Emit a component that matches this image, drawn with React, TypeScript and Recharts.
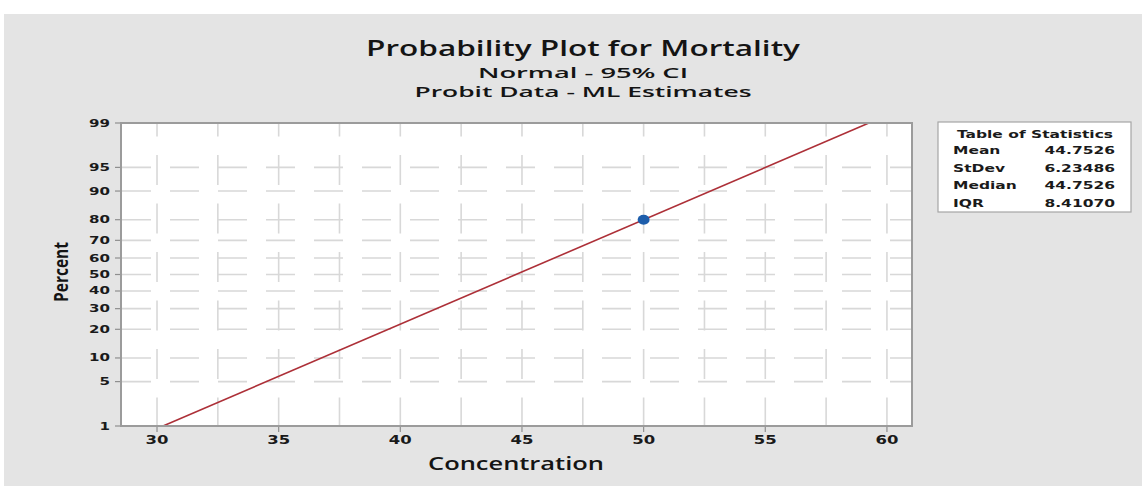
import React from 'react';
import { ComposedChart, Line, Scatter, XAxis, YAxis, CartesianGrid } from 'recharts';

// chart values
const percentTicks = [1, 5, 10, 20, 30, 40, 50, 60, 70, 80, 90, 95, 99];
const concentrationTicks = [30, 32.5, 35, 37.5, 40, 42.5, 45, 47.5, 50, 52.5, 55, 57.5, 60];
const observedConcentration = [50];
const observedPercent = [80];
const fitMean = 44.7526;
const fitStDev = 6.23486;
const fitPercents = [1, 99];
const statLabels = ['Mean', 'StDev', 'Median', 'IQR'];
const statValues = ['44.7526', '6.23486', '44.7526', '8.41070'];

// inverse normal cdf (Acklam)
const probit = (p: number): number => {
  const a = [-39.69683028665376, 220.9460984245205, -275.9285104469687, 138.357751867269, -30.66479806614716, 2.506628277459239];
  const b = [-54.47609879822406, 161.5858368580409, -155.6989798598866, 66.80131188771972, -13.28068155922803];
  const c = [-0.007784894002430293, -0.3223964580411365, -2.400758277161838, -2.549732539343734, 4.374664141464968, 2.938163982698783];
  const d = [0.007784695709041462, 0.3224671290700398, 2.445134137142996, 3.754408661907416];
  const lo = 0.02425;
  if (p < lo) {
    const q = Math.sqrt(-2 * Math.log(p));
    return (((((c[0] * q + c[1]) * q + c[2]) * q + c[3]) * q + c[4]) * q + c[5]) / ((((d[0] * q + d[1]) * q + d[2]) * q + d[3]) * q + 1);
  }
  if (p <= 1 - lo) {
    const q = p - 0.5;
    const r = q * q;
    return ((((((a[0] * r + a[1]) * r + a[2]) * r + a[3]) * r + a[4]) * r + a[5]) * q) / (((((b[0] * r + b[1]) * r + b[2]) * r + b[3]) * r + b[4]) * r + 1);
  }
  return -probit(1 - p);
};

const fitLine = fitPercents.map(p => ({ x: fitMean + probit(p / 100) * fitStDev, z: probit(p / 100) }));
const points = observedConcentration.map((x, i) => ({ x, z: probit(observedPercent[i] / 100) }));
const yTicks = percentTicks.map(p => probit(p / 100));

const tickFont = '"DejaVu Sans", Verdana, sans-serif';
const titleFont = '"Open Sans", "Noto Sans", sans-serif';

// y tick: props x is the axis line position (tickSize/tickMargin = 0)
const YTick = (props: any) => {
  const { x, y, payload } = props;
  const idx = yTicks.findIndex(t => Math.abs(t - payload.value) < 1e-6);
  return (
    <g>
      <line x1={x - 6} x2={x} y1={y} y2={y} stroke="#8f8f8f" strokeWidth={1.2} />
      <text transform={`translate(${x - 11},${y + 3.5}) scale(1.57,1)`} textAnchor="end"
        fontFamily={tickFont} fontWeight="bold" fontSize={9.6} fill="#1a1a1a">
        {percentTicks[idx]}
      </text>
    </g>
  );
};

const XTick = (props: any) => {
  const { x, y, payload } = props;
  if (payload.value % 5 !== 0) return <g />;
  return (
    <g>
      <line x1={x} x2={x} y1={y} y2={y + 6} stroke="#8f8f8f" strokeWidth={1.2} />
      <text transform={`translate(${x},${y + 18}) scale(1.34,1)`} textAnchor="middle"
        fontFamily={tickFont} fontWeight="bold" fontSize={12.3} fill="#1a1a1a">
        {payload.value}
      </text>
    </g>
  );
};

const Dot = (props: any) => <ellipse cx={props.cx} cy={props.cy} rx={6} ry={5} fill="#1d5dab" />;

export default function App() {
  return (
    <div style={{ position: 'absolute', left: 0, top: 0, width: 1142, height: 486, background: '#fff' }}>
      <div style={{ position: 'absolute', left: 4, top: 14, width: 1138, height: 472, background: '#e4e4e4' }} />
      <div style={{ position: 'absolute', left: 0, top: 0 }}>
        <ComposedChart width={1142} height={486} margin={{ top: 123, right: 230, bottom: 20, left: 81 }}>
          <CartesianGrid horizontal={false} fill="#ffffff" stroke="#d8d8d8" strokeWidth={1.6}
            strokeDasharray="30 18.5" strokeDashoffset={16.5} />
          <CartesianGrid vertical={false} stroke="#d8d8d8" strokeWidth={1.6}
            strokeDasharray="29 19" strokeDashoffset={47} />
          <XAxis dataKey="x" type="number" domain={[28.52, 61.03]} ticks={concentrationTicks}
            allowDataOverflow height={40} axisLine={false} tickLine={false} tickSize={0} tickMargin={0}
            tick={(p: any) => <XTick {...p} />} interval={0} />
          <YAxis dataKey="z" type="number" domain={[yTicks[0], yTicks[yTicks.length - 1]]} ticks={yTicks}
            allowDataOverflow width={40} axisLine={false} tickLine={false} tickSize={0} tickMargin={0}
            tick={(p: any) => <YTick {...p} />} interval={0} />
          <Line data={fitLine} dataKey="z" type="linear" stroke="#ad3038" strokeWidth={1.6}
            dot={false} isAnimationActive={false} />
          <Scatter data={points} dataKey="z" shape={(p: any) => <Dot {...p} />} isAnimationActive={false} />
        </ComposedChart>
      </div>
      <svg width={1142} height={486} style={{ position: 'absolute', left: 0, top: 0, pointerEvents: 'none' }}>
        <rect x={121} y={123} width={791} height={303} fill="none" stroke="#9b9b9b" strokeWidth={2} />
        <g fontFamily={titleFont} fontWeight={600} fill="#141414" textAnchor="middle">
          <text x={583} y={56} fontSize={21} textLength={434} lengthAdjust="spacingAndGlyphs">Probability Plot for Mortality</text>
          <text x={583} y={78} fontSize={15} textLength={210} lengthAdjust="spacingAndGlyphs">Normal - 95% CI</text>
          <text x={583} y={97} fontSize={15} textLength={337} lengthAdjust="spacingAndGlyphs">Probit Data - ML Estimates</text>
          <text x={516} y={470} fontSize={18} textLength={176} lengthAdjust="spacingAndGlyphs">Concentration</text>
          <text transform="translate(68,272) rotate(-90)" fontSize={19} fontWeight="bold" textLength={60} lengthAdjust="spacingAndGlyphs">Percent</text>
        </g>
        <rect x={938} y={122} width={193} height={90} fill="#fff" stroke="#a6a6a6" strokeWidth={1.2} />
        <g fontFamily={tickFont} fontWeight="bold" fontSize={10} fill="#1a1a1a">
          <text transform="translate(1035,138) scale(1.55,1)" textAnchor="middle">Table of Statistics</text>
          {statLabels.map((s, i) => (
            <text key={s} transform={`translate(953,${154 + i * 17.6}) scale(1.55,1)`}>{s}</text>
          ))}
          {statValues.map((v, i) => (
            <text key={i} transform={`translate(1115,${154 + i * 17.6}) scale(1.55,1)`} textAnchor="end">{v}</text>
          ))}
        </g>
      </svg>
    </div>
  );
}
